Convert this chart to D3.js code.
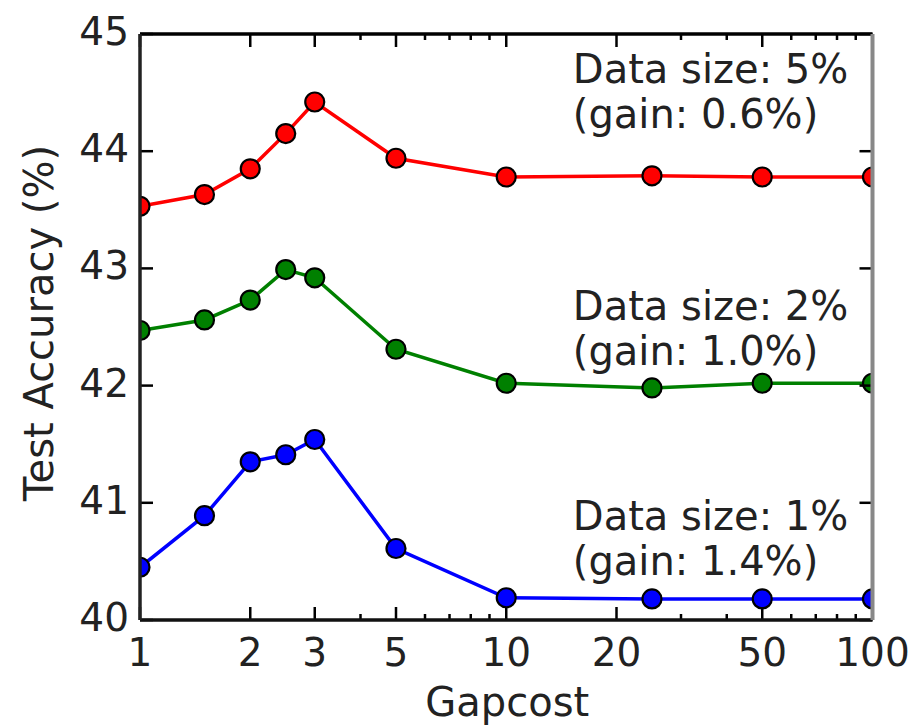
<!DOCTYPE html>
<html>
<head>
<meta charset="utf-8">
<script src="https://cdn.jsdelivr.net/npm/d3@7"></script>
<style>
  html, body { margin: 0; padding: 0; background: #fff; }
  svg { display: block; }
  text { font-family: "DejaVu Sans", sans-serif; fill: #222; }
</style>
</head>
<body>
<svg id="chart" width="918" height="727"></svg>
<script>
// ---- data ----
const gapcost = [1, 1.5, 2, 2.5, 3, 5, 10, 25, 50, 100];
const acc5 = [43.53, 43.63, 43.85, 44.15, 44.42, 43.94, 43.78, 43.79, 43.78, 43.78];
const acc2 = [42.47, 42.56, 42.73, 42.99, 42.92, 42.31, 42.02, 41.98, 42.02, 42.02];
const acc1 = [40.45, 40.89, 41.35, 41.41, 41.54, 40.61, 40.19, 40.18, 40.18, 40.18];
const seriesNames = ["5%", "2%", "1%"];
const seriesGains = ["0.6%", "1.0%", "1.4%"];
const seriesColors = ["#ff0000", "#008000", "#0000ff"];
const xTickValues = [1, 2, 3, 5, 10, 20, 50, 100];
const xMinorTicks = [4, 6, 7, 8, 9, 30, 40, 60, 70, 80, 90];
const yTickValues = [40, 41, 42, 43, 44, 45];
// annotation anchor (in data units: gapcost, accuracy of first text line baseline)
const annotY = [44.58, 42.56, 40.77];
const annotX = 15.2;

const svg = d3.select("#chart");
const L = 140, R = 872.5, T = 34, B = 620;
const x = d3.scaleLog().domain([1, 100]).range([L, R]);
const y = d3.scaleLinear().domain([40, 45]).range([B, T]);

svg.append("defs").append("clipPath").attr("id", "plotclip")
  .append("rect").attr("x", L).attr("y", T).attr("width", R - L).attr("height", B - T);

const series = [acc5, acc2, acc1];
const line = d3.line().x((d, i) => x(gapcost[i])).y(d => y(d));

const plot = svg.append("g").attr("clip-path", "url(#plotclip)");
series.forEach((vals, si) => {
  plot.append("path").datum(vals)
    .attr("d", line)
    .attr("fill", "none")
    .attr("stroke", seriesColors[si])
    .attr("stroke-width", 3.5);
  plot.selectAll(null).data(vals).enter().append("circle")
    .attr("cx", (d, i) => x(gapcost[i]))
    .attr("cy", d => y(d))
    .attr("r", 9.5)
    .attr("fill", seriesColors[si])
    .attr("stroke", "#000")
    .attr("stroke-width", 2.2);
});

// annotations
series.forEach((vals, si) => {
  const t = svg.append("text")
    .attr("x", x(annotX))
    .attr("y", y(annotY[si]))
    .attr("font-size", 40);
  t.append("tspan").attr("x", x(annotX)).text("Data size: " + seriesNames[si]);
  t.append("tspan").attr("x", x(annotX)).attr("dy", 45).text("(gain: " + seriesGains[si] + ")");
});

// ticks
const tickG = svg.append("g").attr("stroke", "#000").attr("stroke-width", 2.5);
xTickValues.forEach(v => {
  tickG.append("line").attr("x1", x(v)).attr("x2", x(v)).attr("y1", B).attr("y2", B - 13);
  tickG.append("line").attr("x1", x(v)).attr("x2", x(v)).attr("y1", T).attr("y2", T + 13);
});
xMinorTicks.forEach(v => {
  tickG.append("line").attr("x1", x(v)).attr("x2", x(v)).attr("y1", B).attr("y2", B - 6);
  tickG.append("line").attr("x1", x(v)).attr("x2", x(v)).attr("y1", T).attr("y2", T + 6);
});
yTickValues.forEach(v => {
  tickG.append("line").attr("x1", L).attr("x2", L + 13).attr("y1", y(v)).attr("y2", y(v));
  tickG.append("line").attr("x1", R).attr("x2", R - 13).attr("y1", y(v)).attr("y2", y(v));
});

// spines
svg.append("line").attr("x1", L).attr("x2", R).attr("y1", T).attr("y2", T).attr("stroke", "#000").attr("stroke-width", 3.5);
svg.append("line").attr("x1", L).attr("x2", R).attr("y1", B).attr("y2", B).attr("stroke", "#111").attr("stroke-width", 3.5);
svg.append("line").attr("x1", L).attr("x2", L).attr("y1", T).attr("y2", B).attr("stroke", "#222").attr("stroke-width", 3.5);
svg.append("line").attr("x1", R).attr("x2", R).attr("y1", T).attr("y2", B).attr("stroke", "#888").attr("stroke-width", 4);

// tick labels
svg.selectAll(".xl").data(xTickValues).enter().append("text")
  .attr("x", d => x(d)).attr("y", 666)
  .attr("text-anchor", "middle").attr("font-size", 39)
  .text(d => d);
svg.selectAll(".yl").data(yTickValues).enter().append("text")
  .attr("x", 129).attr("y", d => y(d) + 11)
  .attr("text-anchor", "end").attr("font-size", 39)
  .text(d => d);

// axis labels
svg.append("text").attr("x", (L + R) / 2 + 1).attr("y", 716)
  .attr("text-anchor", "middle").attr("font-size", 40).text("Gapcost");
svg.append("text")
  .attr("transform", "translate(53,323) rotate(-90)")
  .attr("text-anchor", "middle").attr("font-size", 40).text("Test Accuracy (%)");
</script>
</body>
</html>
